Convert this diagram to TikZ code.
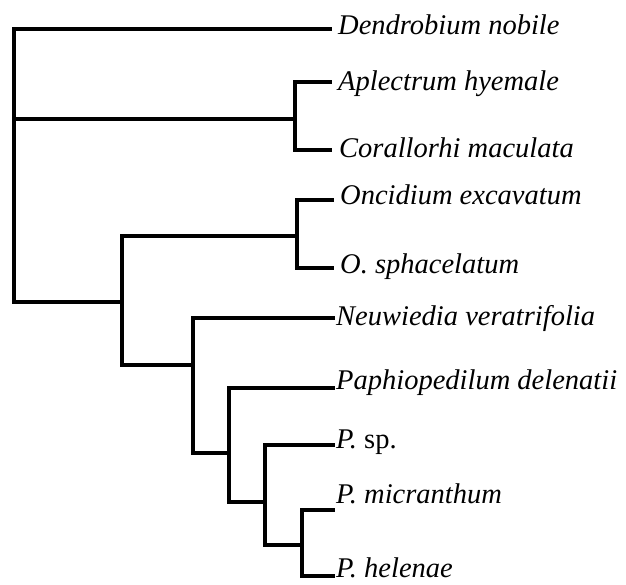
\documentclass[tikz,border=0pt]{standalone}
\usepackage{fontspec}
\setmainfont{Liberation Serif}
\begin{document}
\begin{tikzpicture}[x=1pt,y=-1pt,
  branch/.style={line width=3.4pt, line join=miter, line cap=rect},
  lab/.style={anchor=base west, inner sep=0pt, font=\fontsize{28.5}{30}\selectfont\itshape}]
\useasboundingbox (0,0) rectangle (626,584);
% internal nodes
\coordinate (r)  at (14,200);
\coordinate (nA) at (295,119);
\coordinate (nB) at (122,302);
\coordinate (nO) at (297,236);
\coordinate (nN) at (193,365);
\coordinate (nP) at (229,453);
\coordinate (nQ) at (265,502);
\coordinate (nM) at (302,545);
% tips
\coordinate (tDen) at (330,29);
\coordinate (tApl) at (330,82);
\coordinate (tCor) at (330,150);
\coordinate (tOnc) at (332,200);
\coordinate (tOsp) at (332,268);
\coordinate (tNeu) at (333,318);
\coordinate (tPap) at (333,388);
\coordinate (tPsp) at (333,445);
\coordinate (tMic) at (333,510);
\coordinate (tHel) at (333,576);
% branches
\draw[branch] (r) |- (tDen);
\draw[branch] (r) |- (nA);
\draw[branch] (r) |- (nB);
\draw[branch] (nA) |- (tApl);
\draw[branch] (nA) |- (tCor);
\draw[branch] (nB) |- (nO);
\draw[branch] (nB) |- (nN);
\draw[branch] (nO) |- (tOnc);
\draw[branch] (nO) |- (tOsp);
\draw[branch] (nN) |- (tNeu);
\draw[branch] (nN) |- (nP);
\draw[branch] (nP) |- (tPap);
\draw[branch] (nP) |- (nQ);
\draw[branch] (nQ) |- (tPsp);
\draw[branch] (nQ) |- (nM);
\draw[branch] (nM) |- (tMic);
\draw[branch] (nM) |- (tHel);
% labels
\node[lab] (lDen) at (338,34)  {Dendrobium nobile};
\node[lab] (lApl) at (338,90)  {Aplectrum hyemale};
\node[lab] (lCor) at (339,157) {Corallorhi maculata};
\node[lab] (lOnc) at (340,204) {Oncidium excavatum};
\node[lab] (lOsp) at (340,273) {O. sphacelatum};
\node[lab] (lNeu) at (336,325) {Neuwiedia veratrifolia};
\node[lab] (lPap) at (336,389) {Paphiopedilum delenatii};
\node[lab] (lPsp) at (336,448) {P.\textup{ sp.}};
\node[lab] (lMic) at (336,503) {P. micranthum};
\node[lab] (lHel) at (336,577) {P. helenae};
\end{tikzpicture}
\end{document}
